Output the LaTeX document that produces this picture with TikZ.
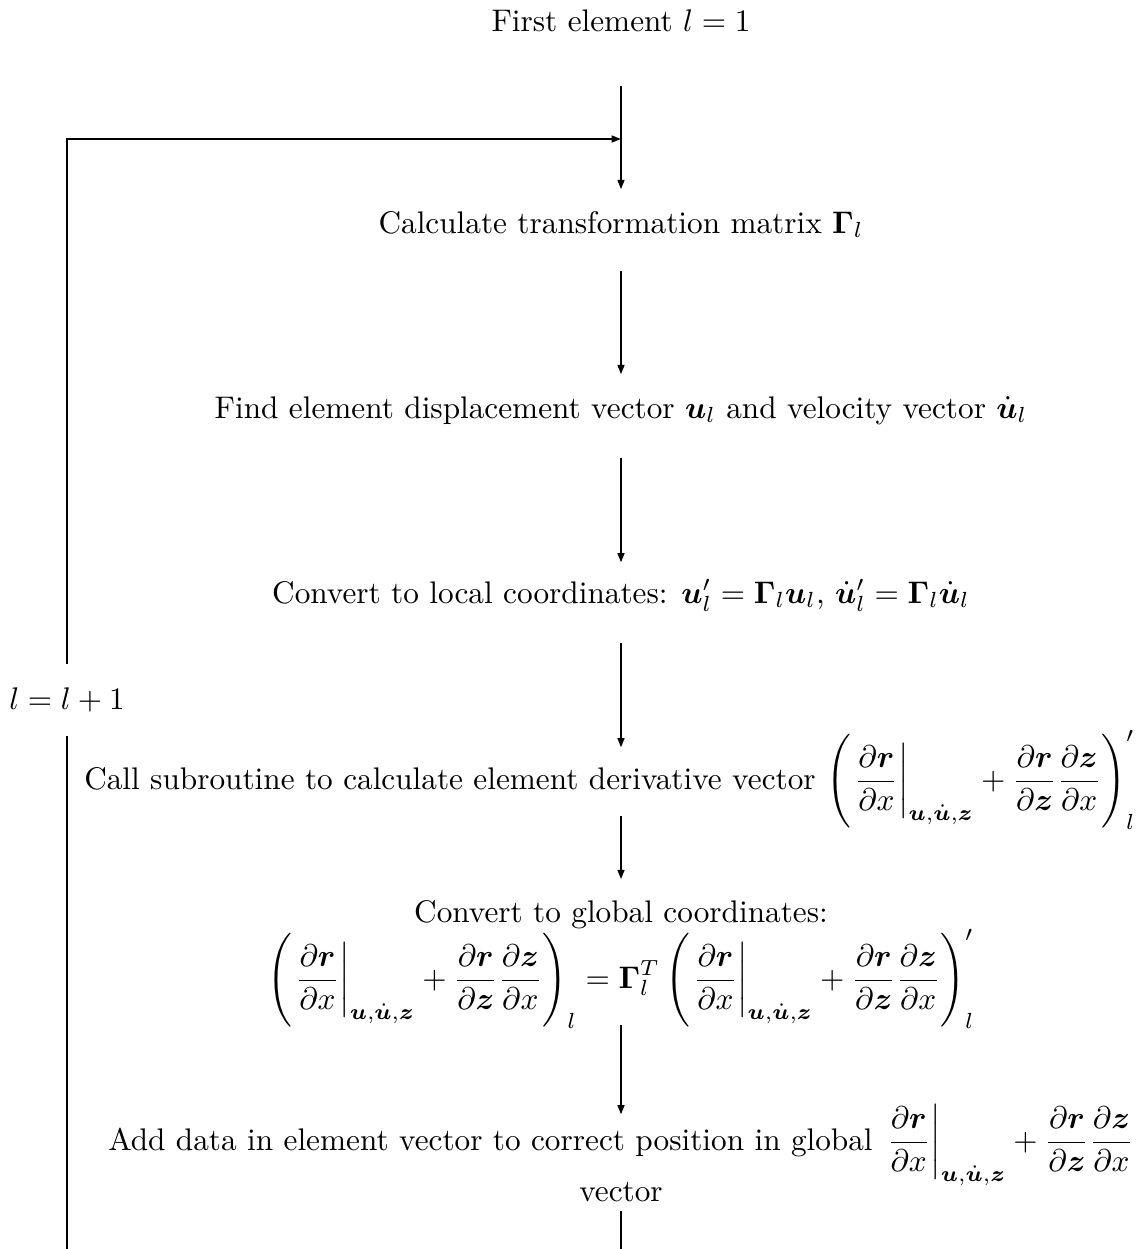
\documentclass[tikz,border=0pt]{standalone}
\usepackage{amsmath}
\usepackage{bm}
\usepackage{tikz}
\usetikzlibrary{positioning, arrows.meta, calc}

% repeated derivative expression
\newcommand{\drvec}{\left.\frac{\partial\bm{r}}{\partial x}\right|_{\bm{u},\dot{\bm{u}},\bm{z}}
  +\frac{\partial\bm{r}}{\partial\bm{z}}\frac{\partial\bm{z}}{\partial x}}

\begin{document}
\begin{tikzpicture}[
  x=0.01124cm, y=-0.01124cm,
  stepline/.style={inner sep=0pt, text height=7pt, text depth=2pt, anchor=base},
  flow/.style={-{Triangle[length=3pt, width=2.2pt]}, semithick,
               shorten <=10.5pt, shorten >=6.5pt},
  loopline/.style={semithick},
]
  \useasboundingbox (0,0) rectangle (1141,1249);
  \coordinate (spine) at (621,0);

  \node[stepline] (first) at (621,31) {First element $l=1$};
  \node[stepline] (calc) at (621,233) {Calculate transformation matrix $\mathbf{\Gamma}_l$};
  \node[stepline] (find) at (621,418)
    {Find element displacement vector $\bm{u}_l$ and velocity vector $\dot{\bm{u}}_l$};
  \node[stepline] (loc) at (621,603)
    {Convert to local coordinates: $\bm{u}'_l=\mathbf{\Gamma}_l\bm{u}_l$,
     $\dot{\bm{u}}'_l=\mathbf{\Gamma}_l\dot{\bm{u}}_l$};
  \node[stepline] (call) at (610,789)
    {Call subroutine to calculate element derivative vector
     $\displaystyle\left(\drvec\right)'_l$};
  \node[stepline] (glob) at (621,922) {Convert to global coordinates:};
  \node[stepline] (globeq) at (621,988)
    {$\displaystyle\left(\drvec\right)_l=\mathbf{\Gamma}_l^T\left(\drvec\right)'_l$};
  \node[stepline] (add) at (621,1150)
    {Add data in element vector to correct position in global $\displaystyle\drvec$};
  \node[stepline] (addvec) at (621,1201) {vector};

  % loop back
  \node[inner xsep=0pt, inner ysep=7.4pt] (inc) at (67,700) {$l=l+1$};
  \coordinate (join) at (621,139);
  \coordinate (loopbot) at (67,1249);
  \coordinate (spinebot) at (621,1249);

  \draw[flow, shorten <=15.3pt, shorten >=6.8pt] (first) -- (calc);
  \draw[flow, shorten <=9.8pt, shorten >=6.8pt] (calc) -- (find);
  \draw[flow, shorten >=5.8pt] (find) -- (loc);
  \draw[flow, shorten >=6.1pt] (loc) -- (call.north -| spine);
  \draw[flow, shorten <=6.3pt] (call.south -| spine) -- (glob);
  \draw[flow, shorten <=9.5pt, shorten >=4.2pt] (globeq.south -| spine) -- (add);
  \draw[loopline, shorten <=1pt] (addvec) -- (spinebot);

  \draw[loopline] (loopbot) -- (inc);
  \draw[flow, shorten <=0pt, shorten >=0pt] (inc) |- (join);
\end{tikzpicture}
\end{document}
